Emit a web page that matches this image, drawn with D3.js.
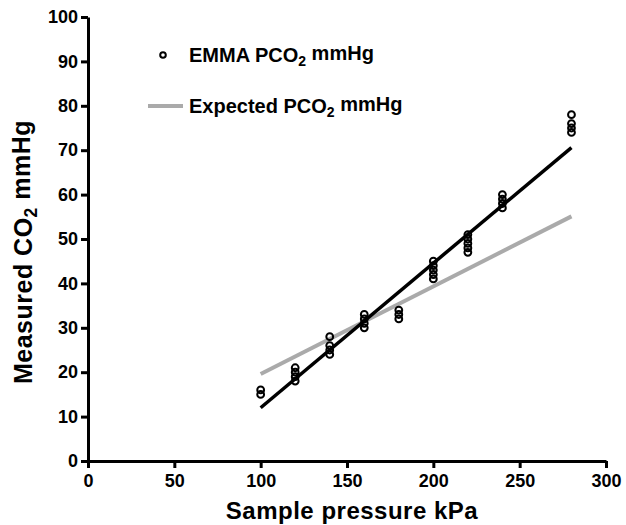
<!DOCTYPE html>
<meta charset="utf-8">
<style>
body { margin: 0; background: #fff; }
text { font-family: Arial, "Liberation Sans", sans-serif; font-weight: bold; }
.axis path, .axis line { stroke: #000; stroke-width: 3px; }
.axis text { font-size: 18px; fill: #000; }
</style>
<div id="chart"></div>
<script src="https://cdn.jsdelivr.net/npm/d3@7"></script>
<script>

// measured EMMA values, one row per sample pressure
const pressures = [100, 120, 140, 160, 180, 200, 220, 240, 280];
const emmaValues = [
    [15, 16],
    [18, 19, 20, 21],
    [24, 25, 26, 28],
    [30, 31, 32, 33],
    [32, 33, 34],
    [41, 42, 43, 44, 45],
    [47, 48, 49, 50, 51],
    [57, 58, 59, 60],
    [74, 75, 76, 78]
];

// regression line for the measured values
const fitX = [100, 280];
const fitY = [12, 70.6];

// expected PCO2
const expectedX = [100, 280];
const expectedY = [19.6, 55.1];

const xTicks = [0, 50, 100, 150, 200, 250, 300];
const yTicks = [0, 10, 20, 30, 40, 50, 60, 70, 80, 90, 100];

const width = 626, height = 525;

const svg = d3.select('#chart').append('svg')
    .attr('width', width)
    .attr('height', height);

const x = d3.scaleLinear().domain([0, 300]).range([88, 606]);
const y = d3.scaleLinear().domain([0, 100]).range([461, 17]);

svg.append('g')
    .attr('class', 'axis')
    .attr('transform', 'translate(0,' + y(0) + ')')
    .call(d3.axisBottom(x).tickValues(xTicks).tickSize(7).tickSizeOuter(0).tickPadding(6));

svg.append('g')
    .attr('class', 'axis')
    .attr('transform', 'translate(' + x(0) + ',0)')
    .call(d3.axisLeft(y).tickValues(yTicks).tickSize(7).tickSizeOuter(0).tickPadding(3));

// lines
const line = d3.line().x(d => x(d[0])).y(d => y(d[1]));

svg.append('path')
    .datum(d3.zip(expectedX, expectedY))
    .attr('d', line)
    .attr('fill', 'none')
    .attr('stroke', '#aaaaaa')
    .attr('stroke-width', 4);

svg.append('path')
    .datum(d3.zip(fitX, fitY))
    .attr('d', line)
    .attr('fill', 'none')
    .attr('stroke', '#000')
    .attr('stroke-width', 3.5);

// points
const points = [];
pressures.forEach((p, i) => emmaValues[i].forEach(v => points.push([p, v])));

svg.append('g').selectAll('circle')
    .data(points)
    .join('circle')
        .attr('cx', d => x(d[0]))
        .attr('cy', d => y(d[1]))
        .attr('r', 3.4)
        .attr('fill', 'none')
        .attr('stroke', '#000')
        .attr('stroke-width', 2);

// axis titles
function pco2Label(sel, before, after) {
    sel.append('tspan').text(before);
    sel.append('tspan').text('2').attr('font-size', '0.7em').attr('dy', '0.3em');
    sel.append('tspan').text(after).attr('dy', '-0.3em');
}

svg.append('text')
    .attr('x', 352)
    .attr('y', 519)
    .attr('text-anchor', 'middle')
    .attr('font-size', 24)
    .style('letter-spacing', '0.5px')
    .text('Sample pressure kPa');

svg.append('text')
    .attr('transform', 'translate(32,' + 252 + ') rotate(-90)')
    .attr('text-anchor', 'middle')
    .attr('font-size', 25)
    .style('letter-spacing', '0.5px')
    .call(pco2Label, 'Measured CO', ' mmHg');

// legend
const legend = svg.append('g');

legend.append('circle')
    .attr('cx', 163).attr('cy', 55).attr('r', 2.8)
    .attr('fill', 'none').attr('stroke', '#000').attr('stroke-width', 2);

legend.append('text')
    .attr('x', 189).attr('y', 62)
    .attr('font-size', 20)
    .call(pco2Label, 'EMMA PCO', ' mmHg');

legend.append('line')
    .attr('x1', 148).attr('x2', 183).attr('y1', 106).attr('y2', 106)
    .attr('stroke', '#aaaaaa').attr('stroke-width', 4);

legend.append('text')
    .attr('x', 189).attr('y', 113)
    .attr('font-size', 20)
    .call(pco2Label, 'Expected PCO', ' mmHg');

</script>
